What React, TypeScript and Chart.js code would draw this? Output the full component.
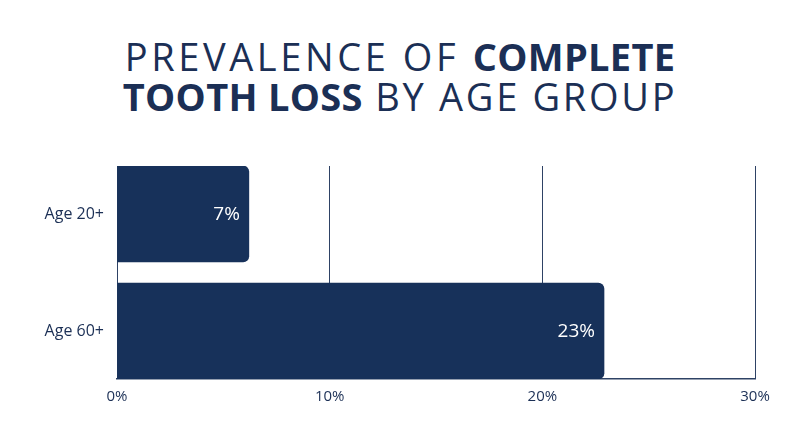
import React, { useEffect, useRef } from "react";
import { Chart, registerables } from "chart.js";

Chart.register(...registerables);

const categories = ["Age 20+", "Age 60+"];
const values = [6.2, 22.9];
const valueLabels = ["7%", "23%"];
const xTicks = [0, 10, 20, 30];

const NAVY = "#17315a";
const TEXT = "#1b2f55";
const GRID = "#2e4265";
const FONT = "'Open Sans', 'DejaVu Sans', sans-serif";

const valueLabelPlugin = {
  id: "valueLabels",
  afterDatasetsDraw(chart: any) {
    const meta = chart.getDatasetMeta(0);
    const ctx = chart.ctx;
    ctx.save();
    ctx.fillStyle = "#ffffff";
    ctx.font = `19px ${FONT}`;
    ctx.textAlign = "right";
    ctx.textBaseline = "middle";
    meta.data.forEach((bar: any, i: number) => {
      ctx.fillText(valueLabels[i], bar.x - 9, bar.y + 1);
    });
    ctx.restore();
  },
};

export default function App() {
  const ref = useRef<HTMLCanvasElement | null>(null);

  useEffect(() => {
    document.body.style.margin = "0";
    const chart = new Chart(ref.current as HTMLCanvasElement, {
      type: "bar",
      data: {
        labels: categories,
        datasets: [
          {
            data: values.map((v, i) => ({ x: v, y: i })),
            backgroundColor: NAVY,
            borderRadius: 6,
            borderSkipped: "start",
            barThickness: 96,
          },
        ],
      },
      options: {
        indexAxis: "y",
        animation: false,
        responsive: false,
        maintainAspectRatio: false,
        layout: { padding: { top: 166, right: 45, left: 0, bottom: 0 } },
        plugins: { legend: { display: false }, tooltip: { enabled: false }, title: { display: false } },
        scales: {
          x: {
            type: "linear",
            min: 0,
            max: 30,
            afterBuildTicks: (scale: any) => {
              scale.ticks = xTicks.map((v) => ({ value: v }));
            },
            afterFit: (scale: any) => {
              scale.height = 68;
            },
            border: { display: true, color: GRID, width: 1.5 },
            grid: { color: GRID, lineWidth: 1, drawTicks: false },
            ticks: {
              padding: 9,
              color: TEXT,
              font: { family: FONT, size: 15 },
              callback: (v: any) => `${v}%`,
            },
          },
          y: {
            type: "linear",
            offset: false,
            min: -0.41,
            max: 1.41,
            reverse: true,
            afterBuildTicks: (scale: any) => {
              scale.ticks = categories.map((_, i) => ({ value: i }));
            },
            afterFit: (scale: any) => {
              scale.width = 117;
            },
            border: { display: false },
            grid: { display: false, drawTicks: false, offset: false },
            ticks: {
              padding: 13,
              color: TEXT,
              font: { family: FONT, size: 16 },
              callback: (v: any) => categories[v] ?? "",
            },
          },
        },
      },
      plugins: [valueLabelPlugin],
    } as any);
    return () => chart.destroy();
  }, []);

  const normal1: React.CSSProperties = { fontWeight: 400, letterSpacing: "3.6px" };
  const normal2: React.CSSProperties = { fontWeight: 400, letterSpacing: "2.7px" };
  const bold: React.CSSProperties = { fontWeight: 700, letterSpacing: "0.3px" };

  return (
    <div style={{ position: "relative", width: 800, height: 447, background: "#fff", overflow: "hidden" }}>
      <div
        style={{
          position: "absolute",
          top: 36,
          left: 0,
          width: 800,
          textAlign: "center",
          color: TEXT,
          fontFamily: FONT,
          fontSize: 38,
          lineHeight: "40px",
          whiteSpace: "nowrap",
        }}
      >
        <div>
          <span style={normal1}>PREVALENCE OF </span>
          <span style={bold}>COMPLETE</span>
        </div>
        <div>
          <span style={bold}>TOOTH LOSS</span>
          <span style={normal2}> BY AGE GROUP</span>
        </div>
      </div>
      <canvas ref={ref} width={800} height={447} style={{ position: "absolute", top: 0, left: 0 }} />
    </div>
  );
}
